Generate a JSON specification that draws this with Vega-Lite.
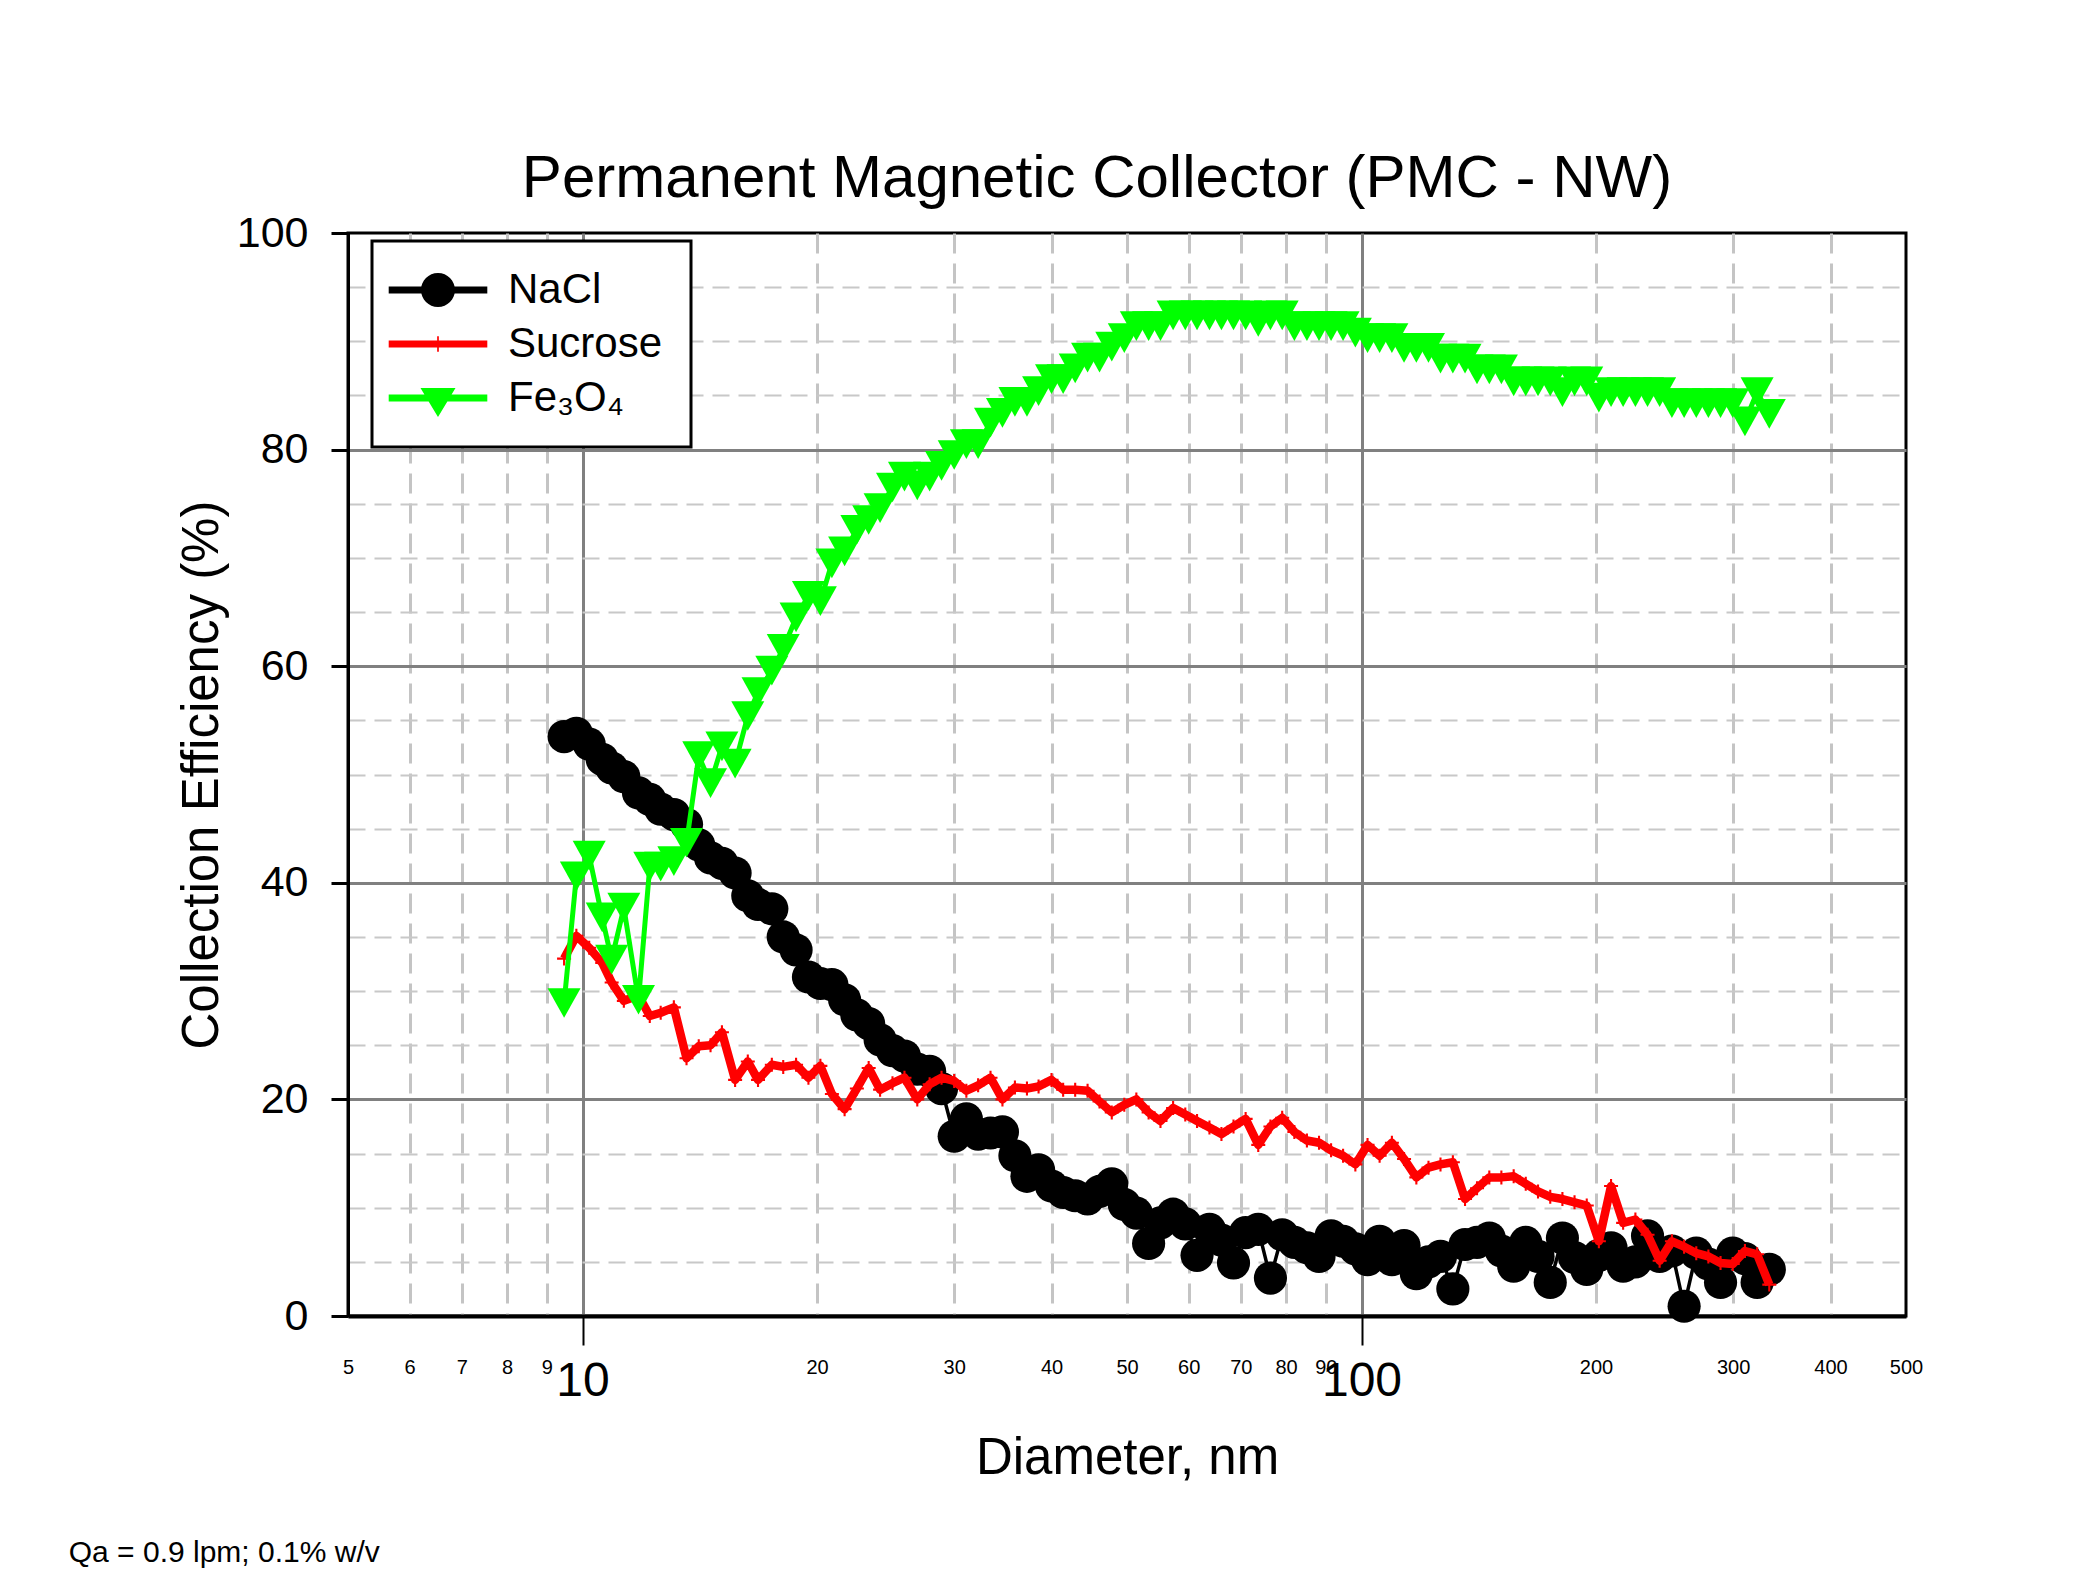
{
  "$schema": "https://vega.github.io/schema/vega-lite/v6.json",
  "autosize": {"type": "none"},
  "padding": {"left": 348, "top": 233, "right": 1740, "bottom": 1337},
  "background": "white",
  "title": {"text": "Qa = 0.9 lpm; 0.1% w/v", "orient": "bottom", "anchor": "start", "frame": "bounds", "fontSize": 30, "font": "Liberation Sans", "fontWeight": "normal", "color": "#000000", "baseline": "alphabetic", "offset": 77, "dx": -106},
  "datasets": {
    "pts": [
      {"s":"NaCl","d":9.47,"e":53.5},{"s":"NaCl","d":9.82,"e":53.8},{"s":"NaCl","d":10.2,"e":52.8},{"s":"NaCl","d":10.6,"e":51.4},{"s":"NaCl","d":10.9,"e":50.6},{"s":"NaCl","d":11.3,"e":49.8},{"s":"NaCl","d":11.8,"e":48.3},{"s":"NaCl","d":12.2,"e":47.7},{"s":"NaCl","d":12.6,"e":46.8},{"s":"NaCl","d":13.1,"e":46.3},
      {"s":"NaCl","d":13.6,"e":45.4},{"s":"NaCl","d":14.1,"e":43.5},{"s":"NaCl","d":14.6,"e":42.3},{"s":"NaCl","d":15.1,"e":41.8},{"s":"NaCl","d":15.7,"e":40.9},{"s":"NaCl","d":16.3,"e":38.8},{"s":"NaCl","d":16.8,"e":38.0},{"s":"NaCl","d":17.5,"e":37.6},{"s":"NaCl","d":18.1,"e":35.0},{"s":"NaCl","d":18.8,"e":33.8},
      {"s":"NaCl","d":19.5,"e":31.3},{"s":"NaCl","d":20.2,"e":30.7},{"s":"NaCl","d":20.9,"e":30.6},{"s":"NaCl","d":21.7,"e":29.2},{"s":"NaCl","d":22.5,"e":27.8},{"s":"NaCl","d":23.3,"e":27.0},{"s":"NaCl","d":24.1,"e":25.5},{"s":"NaCl","d":25.0,"e":24.5},{"s":"NaCl","d":25.9,"e":24.0},{"s":"NaCl","d":26.9,"e":22.8},
      {"s":"NaCl","d":27.9,"e":22.6},{"s":"NaCl","d":28.9,"e":21.0},{"s":"NaCl","d":30.0,"e":16.6},{"s":"NaCl","d":31.1,"e":18.2},{"s":"NaCl","d":32.2,"e":16.8},{"s":"NaCl","d":33.4,"e":16.9},{"s":"NaCl","d":34.6,"e":17.0},{"s":"NaCl","d":35.9,"e":14.8},{"s":"NaCl","d":37.2,"e":12.9},{"s":"NaCl","d":38.5,"e":13.5},
      {"s":"NaCl","d":40.0,"e":12.0},{"s":"NaCl","d":41.4,"e":11.4},{"s":"NaCl","d":42.9,"e":11.1},{"s":"NaCl","d":44.5,"e":10.8},{"s":"NaCl","d":46.1,"e":11.5},{"s":"NaCl","d":47.8,"e":12.2},{"s":"NaCl","d":49.6,"e":10.3},{"s":"NaCl","d":51.4,"e":9.5},{"s":"NaCl","d":53.3,"e":6.7},{"s":"NaCl","d":55.2,"e":8.6},
      {"s":"NaCl","d":57.3,"e":9.4},{"s":"NaCl","d":59.4,"e":8.5},{"s":"NaCl","d":61.5,"e":5.6},{"s":"NaCl","d":63.8,"e":8.0},{"s":"NaCl","d":66.1,"e":7.0},{"s":"NaCl","d":68.5,"e":4.9},{"s":"NaCl","d":71.0,"e":7.7},{"s":"NaCl","d":73.7,"e":8.0},{"s":"NaCl","d":76.4,"e":3.5},{"s":"NaCl","d":79.1,"e":7.5},
      {"s":"NaCl","d":82.0,"e":6.8},{"s":"NaCl","d":85.1,"e":6.3},{"s":"NaCl","d":88.2,"e":5.5},{"s":"NaCl","d":91.4,"e":7.4},{"s":"NaCl","d":94.7,"e":6.9},{"s":"NaCl","d":98.2,"e":6.2},{"s":"NaCl","d":101.8,"e":5.2},{"s":"NaCl","d":105.5,"e":6.9},{"s":"NaCl","d":109.4,"e":5.2},{"s":"NaCl","d":113.4,"e":6.5},
      {"s":"NaCl","d":117.6,"e":3.9},{"s":"NaCl","d":121.9,"e":5.0},{"s":"NaCl","d":126.3,"e":5.5},{"s":"NaCl","d":131.0,"e":2.5},{"s":"NaCl","d":135.8,"e":6.6},{"s":"NaCl","d":140.7,"e":6.8},{"s":"NaCl","d":145.9,"e":7.2},{"s":"NaCl","d":151.2,"e":6.0},{"s":"NaCl","d":156.8,"e":4.6},{"s":"NaCl","d":162.5,"e":6.8},
      {"s":"NaCl","d":168.5,"e":5.5},{"s":"NaCl","d":174.7,"e":3.1},{"s":"NaCl","d":181.1,"e":7.2},{"s":"NaCl","d":187.7,"e":5.4},{"s":"NaCl","d":194.6,"e":4.3},{"s":"NaCl","d":201.7,"e":5.6},{"s":"NaCl","d":209.1,"e":6.3},{"s":"NaCl","d":216.7,"e":4.6},{"s":"NaCl","d":224.7,"e":5.0},{"s":"NaCl","d":232.9,"e":7.4},
      {"s":"NaCl","d":241.4,"e":5.5},{"s":"NaCl","d":250.3,"e":6.0},{"s":"NaCl","d":259.5,"e":0.9},{"s":"NaCl","d":269.0,"e":5.8},{"s":"NaCl","d":278.8,"e":4.8},{"s":"NaCl","d":289.0,"e":3.1},{"s":"NaCl","d":299.6,"e":5.8},{"s":"NaCl","d":310.6,"e":5.3},{"s":"NaCl","d":322.0,"e":3.1},{"s":"NaCl","d":333.8,"e":4.3},

      {"s":"Sucrose","d":9.47,"e":33.0},{"s":"Sucrose","d":9.82,"e":35.1},{"s":"Sucrose","d":10.2,"e":34.0},{"s":"Sucrose","d":10.6,"e":32.6},{"s":"Sucrose","d":10.9,"e":30.8},{"s":"Sucrose","d":11.3,"e":29.1},{"s":"Sucrose","d":11.8,"e":29.6},{"s":"Sucrose","d":12.2,"e":27.7},{"s":"Sucrose","d":12.6,"e":28.0},{"s":"Sucrose","d":13.1,"e":28.5},
      {"s":"Sucrose","d":13.6,"e":23.8},{"s":"Sucrose","d":14.1,"e":24.9},{"s":"Sucrose","d":14.6,"e":25.0},{"s":"Sucrose","d":15.1,"e":26.2},{"s":"Sucrose","d":15.7,"e":21.8},{"s":"Sucrose","d":16.3,"e":23.5},{"s":"Sucrose","d":16.8,"e":21.8},{"s":"Sucrose","d":17.5,"e":23.2},{"s":"Sucrose","d":18.1,"e":23.0},{"s":"Sucrose","d":18.8,"e":23.2},
      {"s":"Sucrose","d":19.5,"e":22.0},{"s":"Sucrose","d":20.2,"e":23.1},{"s":"Sucrose","d":20.9,"e":20.5},{"s":"Sucrose","d":21.7,"e":19.1},{"s":"Sucrose","d":22.5,"e":21.0},{"s":"Sucrose","d":23.3,"e":22.9},{"s":"Sucrose","d":24.1,"e":20.9},{"s":"Sucrose","d":25.0,"e":21.5},{"s":"Sucrose","d":25.9,"e":22.0},{"s":"Sucrose","d":26.9,"e":20.0},
      {"s":"Sucrose","d":27.9,"e":21.4},{"s":"Sucrose","d":28.9,"e":22.0},{"s":"Sucrose","d":30.0,"e":21.7},{"s":"Sucrose","d":31.1,"e":20.8},{"s":"Sucrose","d":32.2,"e":21.3},{"s":"Sucrose","d":33.4,"e":22.0},{"s":"Sucrose","d":34.6,"e":20.0},{"s":"Sucrose","d":35.9,"e":21.1},{"s":"Sucrose","d":37.2,"e":21.0},{"s":"Sucrose","d":38.5,"e":21.2},
      {"s":"Sucrose","d":40.0,"e":21.8},{"s":"Sucrose","d":41.4,"e":20.9},{"s":"Sucrose","d":42.9,"e":20.9},{"s":"Sucrose","d":44.5,"e":20.8},{"s":"Sucrose","d":46.1,"e":19.8},{"s":"Sucrose","d":47.8,"e":18.8},{"s":"Sucrose","d":49.6,"e":19.5},{"s":"Sucrose","d":51.4,"e":20.0},{"s":"Sucrose","d":53.3,"e":18.8},{"s":"Sucrose","d":55.2,"e":18.0},
      {"s":"Sucrose","d":57.3,"e":19.2},{"s":"Sucrose","d":59.4,"e":18.6},{"s":"Sucrose","d":61.5,"e":18.0},{"s":"Sucrose","d":63.8,"e":17.4},{"s":"Sucrose","d":66.1,"e":16.8},{"s":"Sucrose","d":68.5,"e":17.5},{"s":"Sucrose","d":71.0,"e":18.2},{"s":"Sucrose","d":73.7,"e":15.8},{"s":"Sucrose","d":76.4,"e":17.5},{"s":"Sucrose","d":79.1,"e":18.3},
      {"s":"Sucrose","d":82.0,"e":17.0},{"s":"Sucrose","d":85.1,"e":16.2},{"s":"Sucrose","d":88.2,"e":16.0},{"s":"Sucrose","d":91.4,"e":15.3},{"s":"Sucrose","d":94.7,"e":14.8},{"s":"Sucrose","d":98.2,"e":14.0},{"s":"Sucrose","d":101.8,"e":15.8},{"s":"Sucrose","d":105.5,"e":14.8},{"s":"Sucrose","d":109.4,"e":16.0},{"s":"Sucrose","d":113.4,"e":14.5},
      {"s":"Sucrose","d":117.6,"e":12.8},{"s":"Sucrose","d":121.9,"e":13.7},{"s":"Sucrose","d":126.3,"e":14.0},{"s":"Sucrose","d":131.0,"e":14.2},{"s":"Sucrose","d":135.8,"e":10.8},{"s":"Sucrose","d":140.7,"e":11.8},{"s":"Sucrose","d":145.9,"e":12.8},{"s":"Sucrose","d":151.2,"e":12.8},{"s":"Sucrose","d":156.8,"e":12.9},{"s":"Sucrose","d":162.5,"e":12.2},
      {"s":"Sucrose","d":168.5,"e":11.5},{"s":"Sucrose","d":174.7,"e":11.0},{"s":"Sucrose","d":181.1,"e":10.8},{"s":"Sucrose","d":187.7,"e":10.5},{"s":"Sucrose","d":194.6,"e":10.2},{"s":"Sucrose","d":201.7,"e":6.9},{"s":"Sucrose","d":209.1,"e":12.0},{"s":"Sucrose","d":216.7,"e":8.6},{"s":"Sucrose","d":224.7,"e":8.9},{"s":"Sucrose","d":232.9,"e":7.5},
      {"s":"Sucrose","d":241.4,"e":5.1},{"s":"Sucrose","d":250.3,"e":6.9},{"s":"Sucrose","d":259.5,"e":6.4},{"s":"Sucrose","d":269.0,"e":5.8},{"s":"Sucrose","d":278.8,"e":5.5},{"s":"Sucrose","d":289.0,"e":4.9},{"s":"Sucrose","d":299.6,"e":4.8},{"s":"Sucrose","d":310.6,"e":6.0},{"s":"Sucrose","d":322.0,"e":5.7},{"s":"Sucrose","d":333.8,"e":2.9},

      {"s":"Fe3O4","d":9.47,"e":28.9},{"s":"Fe3O4","d":9.82,"e":40.6},{"s":"Fe3O4","d":10.2,"e":42.5},{"s":"Fe3O4","d":10.6,"e":36.8},{"s":"Fe3O4","d":10.9,"e":32.9},{"s":"Fe3O4","d":11.3,"e":37.7},{"s":"Fe3O4","d":11.8,"e":29.2},{"s":"Fe3O4","d":12.2,"e":41.5},{"s":"Fe3O4","d":12.6,"e":41.5},{"s":"Fe3O4","d":13.1,"e":42.0},
      {"s":"Fe3O4","d":13.6,"e":43.7},{"s":"Fe3O4","d":14.1,"e":51.7},{"s":"Fe3O4","d":14.6,"e":49.2},{"s":"Fe3O4","d":15.1,"e":52.6},{"s":"Fe3O4","d":15.7,"e":51.0},{"s":"Fe3O4","d":16.3,"e":55.4},{"s":"Fe3O4","d":16.8,"e":57.6},{"s":"Fe3O4","d":17.5,"e":59.6},{"s":"Fe3O4","d":18.1,"e":61.6},{"s":"Fe3O4","d":18.8,"e":64.5},
      {"s":"Fe3O4","d":19.5,"e":66.5},{"s":"Fe3O4","d":20.2,"e":66.0},{"s":"Fe3O4","d":20.9,"e":69.5},{"s":"Fe3O4","d":21.7,"e":70.6},{"s":"Fe3O4","d":22.5,"e":72.6},{"s":"Fe3O4","d":23.3,"e":73.5},{"s":"Fe3O4","d":24.1,"e":74.6},{"s":"Fe3O4","d":25.0,"e":76.5},{"s":"Fe3O4","d":25.9,"e":77.5},{"s":"Fe3O4","d":26.9,"e":76.7},
      {"s":"Fe3O4","d":27.9,"e":77.5},{"s":"Fe3O4","d":28.9,"e":78.5},{"s":"Fe3O4","d":30.0,"e":79.5},{"s":"Fe3O4","d":31.1,"e":80.5},{"s":"Fe3O4","d":32.2,"e":80.5},{"s":"Fe3O4","d":33.4,"e":82.5},{"s":"Fe3O4","d":34.6,"e":83.4},{"s":"Fe3O4","d":35.9,"e":84.4},{"s":"Fe3O4","d":37.2,"e":84.4},{"s":"Fe3O4","d":38.5,"e":85.4},
      {"s":"Fe3O4","d":40.0,"e":86.5},{"s":"Fe3O4","d":41.4,"e":86.5},{"s":"Fe3O4","d":42.9,"e":87.5},{"s":"Fe3O4","d":44.5,"e":88.5},{"s":"Fe3O4","d":46.1,"e":88.5},{"s":"Fe3O4","d":47.8,"e":89.5},{"s":"Fe3O4","d":49.6,"e":90.3},{"s":"Fe3O4","d":51.4,"e":91.4},{"s":"Fe3O4","d":53.3,"e":91.4},{"s":"Fe3O4","d":55.2,"e":91.4},
      {"s":"Fe3O4","d":57.3,"e":92.4},{"s":"Fe3O4","d":59.4,"e":92.4},{"s":"Fe3O4","d":61.5,"e":92.4},{"s":"Fe3O4","d":63.8,"e":92.4},{"s":"Fe3O4","d":66.1,"e":92.4},{"s":"Fe3O4","d":68.5,"e":92.4},{"s":"Fe3O4","d":71.0,"e":92.4},{"s":"Fe3O4","d":73.7,"e":91.8},{"s":"Fe3O4","d":76.4,"e":92.4},{"s":"Fe3O4","d":79.1,"e":92.4},
      {"s":"Fe3O4","d":82.0,"e":91.4},{"s":"Fe3O4","d":85.1,"e":91.4},{"s":"Fe3O4","d":88.2,"e":91.4},{"s":"Fe3O4","d":91.4,"e":91.4},{"s":"Fe3O4","d":94.7,"e":91.4},{"s":"Fe3O4","d":98.2,"e":90.8},{"s":"Fe3O4","d":101.8,"e":90.3},{"s":"Fe3O4","d":105.5,"e":90.3},{"s":"Fe3O4","d":109.4,"e":90.3},{"s":"Fe3O4","d":113.4,"e":89.4},
      {"s":"Fe3O4","d":117.6,"e":89.4},{"s":"Fe3O4","d":121.9,"e":89.4},{"s":"Fe3O4","d":126.3,"e":88.4},{"s":"Fe3O4","d":131.0,"e":88.4},{"s":"Fe3O4","d":135.8,"e":88.4},{"s":"Fe3O4","d":140.7,"e":87.4},{"s":"Fe3O4","d":145.9,"e":87.4},{"s":"Fe3O4","d":151.2,"e":87.4},{"s":"Fe3O4","d":156.8,"e":86.3},{"s":"Fe3O4","d":162.5,"e":86.3},
      {"s":"Fe3O4","d":168.5,"e":86.3},{"s":"Fe3O4","d":174.7,"e":86.3},{"s":"Fe3O4","d":181.1,"e":85.3},{"s":"Fe3O4","d":187.7,"e":86.3},{"s":"Fe3O4","d":194.6,"e":86.3},{"s":"Fe3O4","d":201.7,"e":84.8},{"s":"Fe3O4","d":209.1,"e":85.3},{"s":"Fe3O4","d":216.7,"e":85.3},{"s":"Fe3O4","d":224.7,"e":85.3},{"s":"Fe3O4","d":232.9,"e":85.3},
      {"s":"Fe3O4","d":241.4,"e":85.3},{"s":"Fe3O4","d":250.3,"e":84.3},{"s":"Fe3O4","d":259.5,"e":84.3},{"s":"Fe3O4","d":269.0,"e":84.3},{"s":"Fe3O4","d":278.8,"e":84.3},{"s":"Fe3O4","d":289.0,"e":84.3},{"s":"Fe3O4","d":299.6,"e":84.3},{"s":"Fe3O4","d":310.6,"e":82.6},{"s":"Fe3O4","d":322.0,"e":85.3},{"s":"Fe3O4","d":333.8,"e":83.3}
    ]
  },
  "vconcat": [
    {
      "width": 1558,
      "height": 1083,
      "title": {"text": "Permanent Magnetic Collector (PMC - NW)", "fontSize": 60, "font": "Liberation Sans", "fontWeight": "normal", "color": "#000000", "anchor": "middle", "frame": "group", "dx": -30, "baseline": "alphabetic", "offset": -45},
      "data": {"name": "pts"},
      "encoding": {
        "x": {
          "field": "d", "type": "quantitative",
          "scale": {"type": "log", "domain": [5, 500], "nice": false},
          "axis": {
            "title": "Diameter, nm", "titleFontSize": 51, "titlePadding": 28,
            "values": [5, 6, 7, 8, 9, 10, 20, 30, 40, 50, 60, 70, 80, 90, 100, 200, 300, 400, 500],
            "format": "d",
            "labelFont": "Liberation Sans",
            "labelFontSize": {"condition": {"test": "datum.value === 10 || datum.value === 100", "value": 48}, "value": 20},
            "labelBaseline": "top", "labelPadding": 12, "labelOverlap": false, "labelFlush": false, "labelBound": false,
            "tickSize": 29, "tickWidth": 2,
            "tickColor": {"condition": {"test": "datum.value === 10 || datum.value === 100", "value": "#000000"}, "value": "transparent"},
            "domainWidth": 4,
            "grid": true,
            "gridColor": {"condition": {"test": "datum.value === 10 || datum.value === 100", "value": "#808080"}, "value": "#C4C4C4"},
            "gridDash": {"condition": {"test": "datum.value === 10 || datum.value === 100", "value": []}, "value": [20, 10]},
            "gridOpacity": {"condition": {"test": "datum.value === 5 || datum.value === 500", "value": 0}, "value": 1},
            "gridWidth": 3
          }
        },
        "y": {
          "field": "e", "type": "quantitative",
          "scale": {"domain": [0, 100], "nice": false},
          "axis": {
            "title": "Collection Efficiency (%)", "titleFontSize": 51, "titlePadding": 8,
            "values": [0, 5, 10, 15, 20, 25, 30, 35, 40, 45, 50, 55, 60, 65, 70, 75, 80, 85, 90, 95, 100],
            "labelExpr": "datum.value % 20 === 0 ? datum.label : ''",
            "labelFontSize": 43, "labelPadding": 23,
            "tickSize": 17, "tickWidth": 3,
            "tickColor": {"condition": {"test": "datum.value % 20 === 0", "value": "#000000"}, "value": "transparent"},
            "domainWidth": 3,
            "grid": true,
            "gridColor": {"condition": {"test": "datum.value % 20 === 0", "value": "#808080"}, "value": "#C8C8C8"},
            "gridDash": {"condition": {"test": "datum.value % 20 === 0", "value": []}, "value": [17, 9]},
            "gridOpacity": {"condition": {"test": "datum.value === 0 || datum.value === 100", "value": 0}, "value": 1},
            "gridWidth": {"condition": {"test": "datum.value % 20 === 0", "value": 3}, "value": 2}
          }
        },
        "color": {
          "field": "s", "type": "nominal",
          "scale": {"domain": ["NaCl", "Sucrose", "Fe3O4"], "range": ["#000000", "#ff0000", "#00ff00"]},
          "legend": {
            "title": null,
            "orient": "none", "legendX": 24, "legendY": 8,
            "padding": 28, "symbolOffset": 17, "labelOffset": 49,
            "rowPadding": 12,
            "symbolSize": 1156, "symbolStrokeWidth": 0,
            "labelFontSize": 42, "labelFont": "Liberation Sans", "labelColor": "#000000",
            "labelExpr": "datum.label === 'Fe3O4' ? 'Fe₃O₄' : datum.label",
            "strokeColor": "#000000", "fillColor": "#ffffff",
            "encode": {
              "legend": {"update": {"strokeWidth": {"value": 3}}},
              "symbols": {"update": {
                "shape": {"signal": "datum.value === 'NaCl' ? 'M -2.9 -0.21 L -0.9 -0.21 L -0.9 0.21 L -2.9 0.21 Z M 0.9 -0.21 L 2.9 -0.21 L 2.9 0.21 L 0.9 0.21 Z M -1 0 A 1 1 0 1 1 1 0 A 1 1 0 1 1 -1 0 Z' : datum.value === 'Sucrose' ? 'M -2.9 -0.21 L 2.9 -0.21 L 2.9 0.21 L -2.9 0.21 Z M -0.05 -0.45 L 0.05 -0.45 L 0.05 0.45 L -0.05 0.45 Z' : 'M -2.9 -0.21 L 2.9 -0.21 L 2.9 0.21 L -2.9 0.21 Z M -1.03 -0.59 L 1.03 -0.59 L 0 1.12 Z'"},
                "fill": {"signal": "datum.value === 'NaCl' ? '#000000' : datum.value === 'Sucrose' ? '#ff0000' : '#00ff00'"},
                "stroke": {"value": "transparent"},
                "strokeWidth": {"value": 0},
                "size": {"value": 1156},
                "opacity": {"value": 1}
              }}
            }
          }
        }
      },
      "layer": [
        {
          "transform": [{"filter": "datum.s === 'NaCl'"}],
          "mark": {"type": "line", "strokeWidth": 3.5, "strokeJoin": "round", "point": {"filled": true, "shape": "circle", "size": 1100, "strokeWidth": 0}}
        },
        {
          "transform": [{"filter": "datum.s === 'Sucrose'"}],
          "mark": {"type": "line", "strokeWidth": 8.5, "strokeJoin": "round", "point": {"filled": true, "shape": "M -1 -0.15 L 1 -0.15 L 1 0.15 L -1 0.15 Z M -0.15 -1 L 0.15 -1 L 0.15 1 L -0.15 1 Z", "size": 196, "strokeWidth": 0}}
        },
        {
          "transform": [{"filter": "datum.s === 'Fe3O4'"}],
          "mark": {"type": "line", "strokeWidth": 5, "strokeJoin": "round", "point": {"filled": true, "shape": "M -1 -0.9 L 1 -0.9 L 0 0.9 Z", "size": 1089, "strokeWidth": 0}}
        }
      ]
    }
  ],
  "config": {
    "font": "Liberation Sans",
    "view": {"stroke": "#000000", "strokeWidth": 3},
    "axis": {"titleFont": "Liberation Sans", "titleFontWeight": "normal", "titleColor": "#000000", "labelColor": "#000000", "labelFont": "Liberation Sans", "domainColor": "#000000"}
  }
}
